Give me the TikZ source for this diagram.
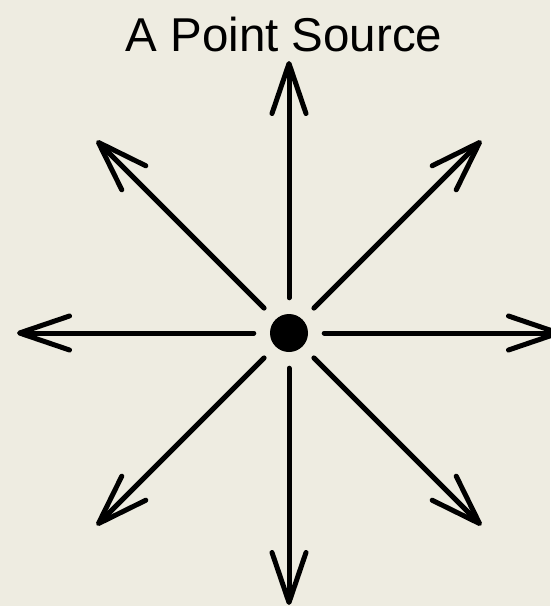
\documentclass[tikz,border=0pt]{standalone}
\usepackage{fontspec}
\setmainfont{Liberation Sans}
\usetikzlibrary{arrows.meta, calc}
\definecolor{cBg}{HTML}{EEECE1}

\begin{document}
\begin{tikzpicture}[x=1pt, y=-1pt, >=latex,
    ray/.style={line width=5pt, line cap=round, line join=round,
        -{Straight Barb[length=50pt, width=34pt, line cap=round, line join=round]},
        shorten <=16pt}]

    % Background
    \useasboundingbox (0,0) rectangle (550,606);
    \fill[cBg] (0,0) rectangle (550,606);

    % Title
    \node[anchor=base, inner sep=0pt] (title) at (284,51)
        {\fontsize{47.5}{56}\selectfont A Point Source};

    % The source
    \node[circle, fill=black, minimum size=38pt, inner sep=0pt] (src) at (289,333) {};

    % Rays in eight directions
    \foreach \a in {0,45,...,315} {
        \coordinate (e\a) at ($(src)+(\a:272)$);
        \draw[ray] (src) -- (e\a);
    }

\end{tikzpicture}
\end{document}
